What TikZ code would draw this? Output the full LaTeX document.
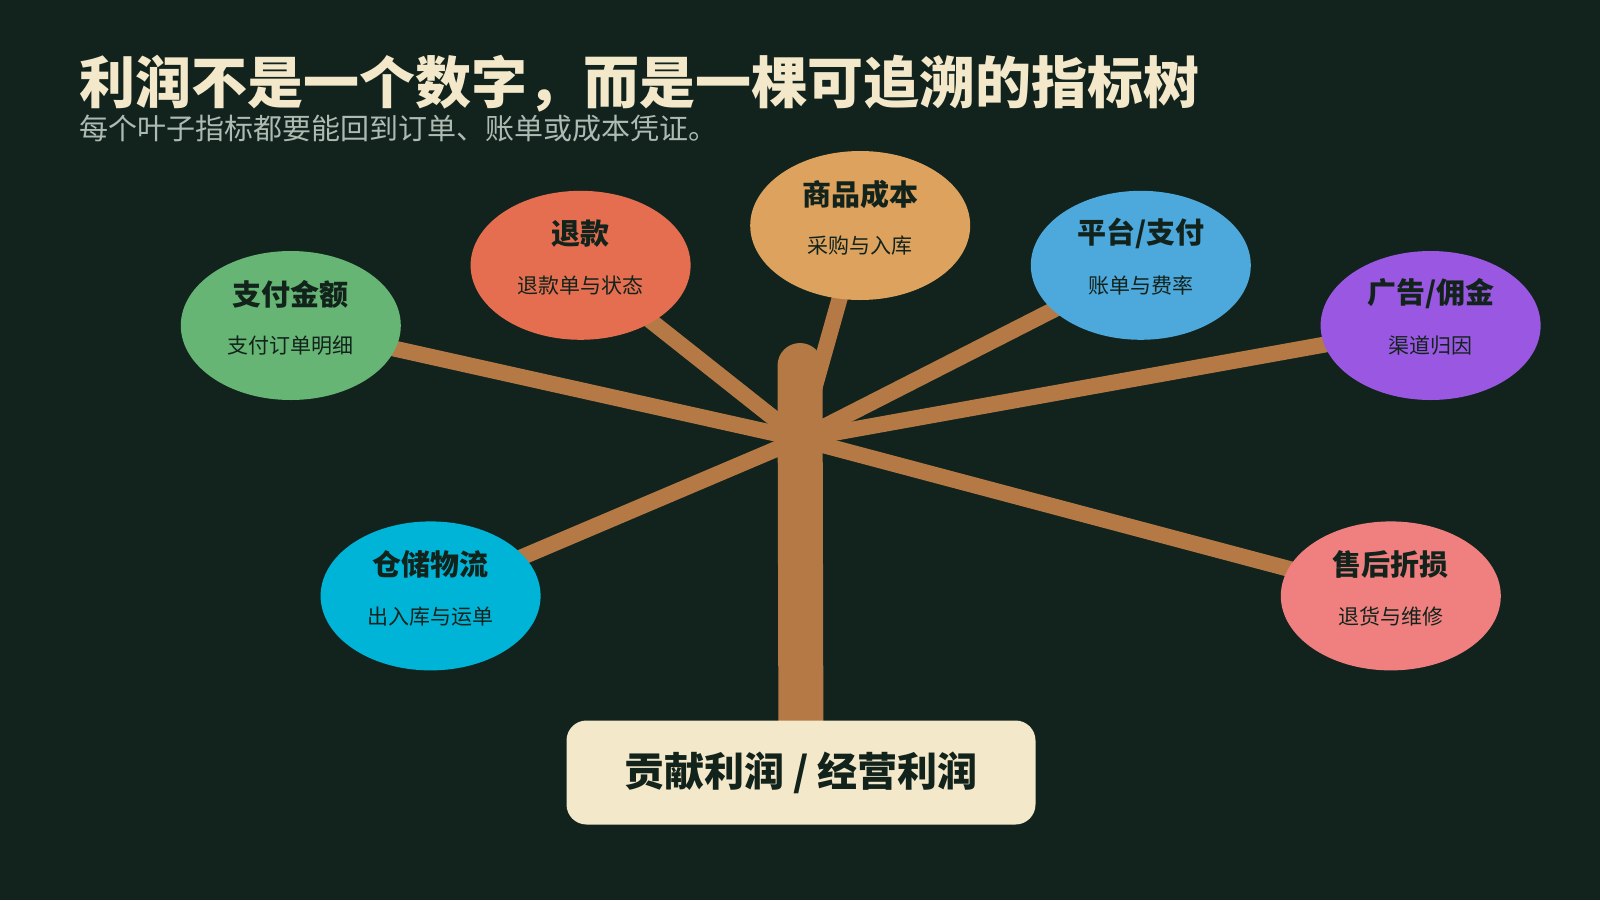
\documentclass[tikz,border=0pt]{standalone}
\usepackage{fontspec}
\setmainfont{Noto Sans CJK SC}
\usetikzlibrary{shapes.geometric,calc}
\definecolor{bgc}{HTML}{11231C}
\definecolor{wood}{HTML}{B57946}
\definecolor{cream}{HTML}{F4E8CB}
\definecolor{subc}{HTML}{AEBBB3}
\definecolor{ink}{HTML}{12231C}
\definecolor{cgreen}{HTML}{66B574}
\definecolor{cred}{HTML}{E66E50}
\definecolor{corange}{HTML}{DDA25E}
\definecolor{cblue}{HTML}{4DA8DC}
\definecolor{cpurple}{HTML}{9A58E2}
\definecolor{ccyan}{HTML}{00B4D8}
\definecolor{cpink}{HTML}{F08080}
\pgfdeclarelayer{bglayer}
\pgfdeclarelayer{branchlayer}
\pgfsetlayers{bglayer,branchlayer,main}
\tikzset{
  leaf/.style={ellipse, minimum width=220pt, minimum height=149pt, inner sep=0pt, draw=none},
  ltitle/.style={inner sep=0pt, text=ink, font=\fontsize{29}{34}\selectfont\bfseries},
  lsub/.style={inner sep=0pt, text=ink, font=\fontsize{21}{25}\selectfont},
  branch/.style={draw=wood, line width=16pt},
  trunk/.style={draw=wood, line width=45pt, line cap=round},
  rootbox/.style={rectangle, rounded corners=20pt, fill=cream, minimum width=469pt, minimum height=104pt, inner sep=0pt, text=ink, font=\fontsize{40}{46}\selectfont\bfseries},
}
\newcommand\leafnode[6]{%
  \node[leaf, fill=#4] (#1) at (#2,#3) {};
  \node[ltitle] (#1-t) at ($(#1.center)+(0,-31.5)$) {#5};
  \node[lsub] (#1-s) at ($(#1.center)+(0,20.5)$) {#6};
}
\begin{document}
\begin{tikzpicture}[x=1pt,y=-1pt]
\begin{pgfonlayer}{bglayer}
  \fill[bgc] (0,0) rectangle (1600,900);
\end{pgfonlayer}
\useasboundingbox (0,0) rectangle (1600,900);

\node[anchor=west, inner sep=0pt, text=cream, font=\fontsize{56}{64}\selectfont\bfseries] (title) at (79,84) {利润不是一个数字，而是一棵可追溯的指标树};
\node[anchor=west, inner sep=0pt, text=subc, font=\fontsize{29}{33}\selectfont] (subtitle) at (79,128) {每个叶子指标都要能回到订单、账单或成本凭证。};

\coordinate (hub) at (800,439);
\coordinate (ttop) at (800,365.5);

\leafnode{pay}{290.8}{325.5}{cgreen}{支付金额}{支付订单明细}
\leafnode{refund}{580.6}{265.3}{cred}{退款}{退款单与状态}
\leafnode{cost}{860.2}{225.5}{corange}{商品成本}{采购与入库}
\leafnode{plat}{1140.8}{265.3}{cblue}{平台/支付}{账单与费率}
\leafnode{ads}{1430.6}{325.5}{cpurple}{广告/佣金}{渠道归因}
\leafnode{wms}{430.6}{595.9}{ccyan}{仓储物流}{出入库与运单}
\leafnode{after}{1390.8}{595.9}{cpink}{售后折损}{退货与维修}

\node[rootbox] (root) at (801,772.5) {贡献利润 / 经营利润};

\begin{pgfonlayer}{branchlayer}
  \foreach \n in {pay,refund,cost,plat,ads,wms,after}
    \draw[branch] (hub) -- (\n.center);
  \draw[trunk] (root.center) -- (ttop);
\end{pgfonlayer}
\end{tikzpicture}
\end{document}
